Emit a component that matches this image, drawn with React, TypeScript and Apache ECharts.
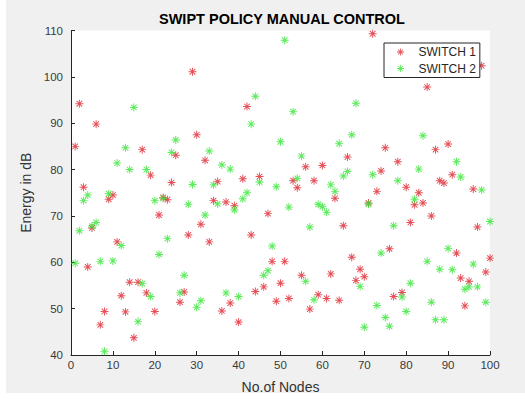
import React, { useEffect, useRef } from "react";
import * as echarts from "echarts";

const nodes = [
  1, 2, 3, 4, 5, 6, 7, 8, 9, 10, 11, 12, 13, 14, 15, 16, 17, 18, 19, 20,
  21, 22, 23, 24, 25, 26, 27, 28, 29, 30, 31, 32, 33, 34, 35, 36, 37, 38, 39, 40,
  41, 42, 43, 44, 45, 46, 47, 48, 49, 50, 51, 52, 53, 54, 55, 56, 57, 58, 59, 60,
  61, 62, 63, 64, 65, 66, 67, 68, 69, 70, 71, 72, 73, 74, 75, 76, 77, 78, 79, 80,
  81, 82, 83, 84, 85, 86, 87, 88, 89, 90, 91, 92, 93, 94, 95, 96, 97, 98, 99, 100,
];

const switch1 = [
  85.0, 94.2, 76.2, 59.0, 67.4, 89.8, 46.5, 49.4, 73.6, 74.5,
  64.4, 52.8, 49.3, 55.7, 43.7, 55.7, 84.3, 53.4, 78.8, 49.4,
  70.2, 74.0, 73.5, 77.2, 83.1, 51.4, 53.6, 65.9, 101.1, 87.5,
  68.2, 82.0, 64.4, 73.3, 77.4, 49.5, 73.0, 51.2, 72.2, 47.1,
  78.0, 93.6, 65.9, 53.7, 78.5, 54.7, 70.5, 60.2, 51.6, 55.5,
  60.2, 52.2, 77.6, 76.1, 57.2, 80.6, 49.9, 77.6, 53.0, 80.9,
  52.2, 57.5, 73.8, 51.8, 67.9, 82.7, 61.1, 56.1, 58.5, 56.9,
  72.8, 109.3, 75.3, 79.7, 84.7, 62.9, 52.6, 81.7, 53.5, 76.2,
  68.6, 72.4, 75.0, 72.8, 97.8, 70.0, 84.3, 77.6, 77.1, 85.5,
  78.9, 62.0, 56.6, 50.6, 55.9, 75.8, 67.6, 102.4, 57.9, 60.9,
];

const switch2 = [
  59.8, 66.8, 73.3, 74.5, 67.8, 68.6, 60.2, 40.8, 74.8, 60.3,
  81.4, 63.6, 84.7, 80.0, 93.4, 47.2, 55.4, 80.0, 52.6, 73.3,
  61.7, 73.8, 65.1, 83.7, 86.4, 53.4, 57.2, 72.5, 76.8, 50.3,
  51.7, 70.2, 84.0, 76.7, 72.6, 81.0, 53.4, 80.1, 71.3, 52.6,
  73.7, 75.0, 89.8, 95.8, 77.3, 57.2, 58.2, 63.5, 76.3, 86.0,
  107.9, 71.9, 92.5, 78.1, 82.9, 55.9, 67.6, 51.9, 72.5, 72.0,
  70.8, 76.7, 75.3, 85.6, 78.6, 79.6, 87.5, 94.3, 54.8, 46.0,
  72.5, 78.9, 50.7, 62.0, 48.1, 46.2, 67.9, 77.6, 52.5, 49.4,
  55.5, 73.6, 80.1, 87.3, 60.2, 51.4, 47.6, 58.5, 47.6, 63.0,
  58.4, 81.7, 78.4, 54.2, 54.7, 59.6, 54.7, 75.6, 51.4, 68.8,
];

const seriesNames = ["SWITCH 1", "SWITCH 2"];
const xTicks = { min: 0, max: 100, interval: 10 };
const yTicks = { min: 40, max: 110, interval: 10 };

const RED = "#de2630";
const GREEN = "#33e633";

// asterisk made of a plus and an x (filled thin bars)
const ASTERISK =
  "path://M4.4,0L5.6,0L5.6,10L4.4,10ZM0,4.4L10,4.4L10,5.6L0,5.6Z" +
  "M1.076,1.924L1.924,1.076L8.924,8.076L8.076,8.924Z" +
  "M8.076,1.076L8.924,1.924L1.924,8.924L1.076,8.076Z";

const FONT = "'Liberation Sans', Arial, Helvetica, sans-serif";

export default function App() {
  const ref = useRef<HTMLDivElement>(null);

  useEffect(() => {
    document.body.style.margin = "0";
    if (!ref.current) return;
    const chart = echarts.init(ref.current, undefined, { renderer: "svg" });
    const pts = (vals: number[]) => nodes.map((n, i) => [n, vals[i]]);
    chart.setOption({
      animation: false,
      backgroundColor: "#f0f0f0",
      title: {
        text: "SWIPT POLICY MANUAL CONTROL",
        left: 282,
        top: 11,
        padding: 0,
        textAlign: "center",
        textStyle: { fontFamily: FONT, fontSize: 14.5, fontWeight: "bold", color: "#000" },
      },
      grid: {
        left: 71,
        right: 35,
        top: 30.5,
        bottom: 44,
        show: true,
        backgroundColor: "#ffffff",
        borderWidth: 0,
        containLabel: false,
        outerBoundsMode: "none",
      },
      legend: {
        orient: "vertical",
        left: 384,
        top: 43,
        padding: [2, 4, 2, 13],
        itemGap: 2.5,
        itemWidth: 26,
        itemHeight: 7,
        backgroundColor: "#ffffff",
        borderColor: "#262626",
        borderWidth: 1,
        borderRadius: 0,
        textStyle: { fontFamily: FONT, fontSize: 12, color: "#262626", lineHeight: 14 },
        data: seriesNames,
      },
      xAxis: {
        type: "value",
        min: xTicks.min,
        max: xTicks.max,
        interval: xTicks.interval,
        name: "No.of Nodes",
        nameLocation: "middle",
        nameGap: 25,
        nameTextStyle: { fontFamily: FONT, fontSize: 14, color: "#333" },
        axisLine: { show: true, onZero: false, lineStyle: { color: "#262626", width: 1 } },
        axisTick: { show: true, inside: true, length: 4, lineStyle: { color: "#262626" } },
        axisLabel: { margin: 4, fontFamily: FONT, fontSize: 11.5, color: "#3a3a3a" },
        splitLine: { show: false },
      },
      yAxis: {
        type: "value",
        min: yTicks.min,
        max: yTicks.max,
        interval: yTicks.interval,
        name: "Energy in dB",
        nameLocation: "middle",
        nameGap: 29,
        nameTextStyle: { fontFamily: FONT, fontSize: 14, color: "#333" },
        axisLine: { show: true, onZero: false, lineStyle: { color: "#262626", width: 1 } },
        axisTick: { show: true, inside: true, length: 4, lineStyle: { color: "#262626" } },
        axisLabel: { margin: 8, fontFamily: FONT, fontSize: 11.5, color: "#3a3a3a" },
        splitLine: { show: false },
      },
      series: [
        {
          name: seriesNames[0],
          type: "scatter",
          symbol: ASTERISK,
          symbolSize: 8,
          itemStyle: { color: RED },
          data: pts(switch1),
        },
        {
          name: seriesNames[1],
          type: "scatter",
          symbol: ASTERISK,
          symbolSize: 8,
          itemStyle: { color: GREEN },
          data: pts(switch2),
        },
      ],
      graphic: [
        { type: "rect", shape: { x: 0, y: 0, width: 6, height: 399 }, style: { fill: "#ffffff" }, silent: true },
        { type: "rect", shape: { x: 0, y: 393, width: 525, height: 6 }, style: { fill: "#ffffff" }, silent: true },
      ],
    });
    return () => chart.dispose();
  }, []);

  return <div ref={ref} style={{ width: 525, height: 399 }} />;
}
